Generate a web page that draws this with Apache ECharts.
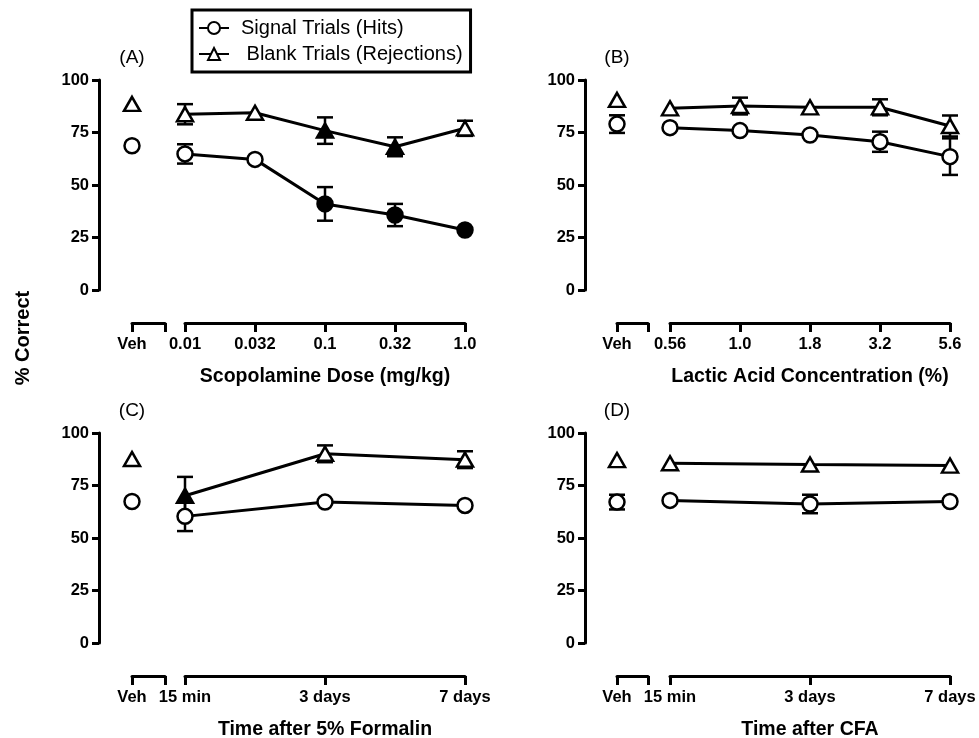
<!DOCTYPE html>
<html>
<head>
<meta charset="utf-8">
<script src="https://cdn.jsdelivr.net/npm/echarts@6/dist/echarts.min.js"></script>
<style>
  html, body { margin: 0; padding: 0; background: #fff; }
  #chart { width: 979px; height: 738px; }
</style>
</head>
<body>
<div id="chart"></div>
<script>
// (A) scopolamine
var scopDose = ['0.01', '0.032', '0.1', '0.32', '1.0'];
var scopHits = [64.8, 62.2, 41.0, 35.7, 28.6];
var scopHitsErr = [4.6, 0, 8.0, 5.3, 0];
var scopHitsFilled = [0, 0, 1, 1, 1];
var scopRej = [83.7, 84.4, 75.9, 68.2, 77.0];
var scopRejErr = [4.8, 0, 6.3, 4.5, 3.6];
var scopRejFilled = [0, 0, 1, 1, 0];
var scopVeh = [68.7, 88.6];      // hits, rejections
var scopVehErr = [0, 0];

// (B) lactic acid
var lacticConc = ['0.56', '1.0', '1.8', '3.2', '5.6'];
var lacticHits = [77.3, 75.9, 73.8, 70.6, 63.5];
var lacticHitsErr = [0, 0, 0, 4.8, 8.7];
var lacticHitsFilled = [0, 0, 0, 0, 0];
var lacticRej = [86.5, 87.6, 87.0, 87.0, 78.1];
var lacticRejErr = [0, 4.0, 0, 3.8, 5.0];
var lacticRejFilled = [0, 0, 0, 0, 0];
var lacticVeh = [79.0, 90.5];
var lacticVehErr = [4.2, 0];

// (C) formalin
var formalinTime = ['15 min', '3 days', '7 days'];
var formalinHits = [60.3, 67.1, 65.5];
var formalinHitsErr = [7.0, 0, 0];
var formalinHitsFilled = [0, 0, 0];
var formalinRej = [70.1, 90.1, 87.3];
var formalinRejErr = [9.0, 4.0, 4.0];
var formalinRejFilled = [1, 0, 0];
var formalinVeh = [67.4, 87.6];
var formalinVehErr = [0, 0];

// (D) CFA
var cfaTime = ['15 min', '3 days', '7 days'];
var cfaHits = [67.9, 66.2, 67.4];
var cfaHitsErr = [0, 4.4, 0];
var cfaHitsFilled = [0, 0, 0];
var cfaRej = [85.6, 85.0, 84.5];
var cfaRejErr = [0, 0, 0];
var cfaRejFilled = [0, 0, 0];
var cfaVeh = [67.1, 87.1];
var cfaVehErr = [3.5, 0];

var HITS = 'Signal Trials (Hits)';
var REJ = 'Blank Trials (Rejections)';
var FONT = '"Liberation Sans", Arial, Helvetica, sans-serif';

var panels = [
  { tag: '(A)', title: 'Scopolamine Dose (mg/kg)', cats: scopDose,
    hits: scopHits, hitsErr: scopHitsErr, hitsFilled: scopHitsFilled,
    rej: scopRej, rejErr: scopRejErr, rejFilled: scopRejFilled,
    veh: scopVeh, vehErr: scopVehErr,
    axisX: 99, vehL: 132, vehR: 165, mainL: 185, mainR: 465, top: 80, bottom: 290 },
  { tag: '(B)', title: 'Lactic Acid Concentration (%)', cats: lacticConc,
    hits: lacticHits, hitsErr: lacticHitsErr, hitsFilled: lacticHitsFilled,
    rej: lacticRej, rejErr: lacticRejErr, rejFilled: lacticRejFilled,
    veh: lacticVeh, vehErr: lacticVehErr,
    axisX: 585, vehL: 617, vehR: 648, mainL: 670, mainR: 950, top: 80, bottom: 290 },
  { tag: '(C)', title: 'Time after 5% Formalin', cats: formalinTime,
    hits: formalinHits, hitsErr: formalinHitsErr, hitsFilled: formalinHitsFilled,
    rej: formalinRej, rejErr: formalinRejErr, rejFilled: formalinRejFilled,
    veh: formalinVeh, vehErr: formalinVehErr,
    axisX: 99, vehL: 132, vehR: 165, mainL: 185, mainR: 465, top: 433, bottom: 643 },
  { tag: '(D)', title: 'Time after CFA', cats: cfaTime,
    hits: cfaHits, hitsErr: cfaHitsErr, hitsFilled: cfaHitsFilled,
    rej: cfaRej, rejErr: cfaRejErr, rejFilled: cfaRejFilled,
    veh: cfaVeh, vehErr: cfaVehErr,
    axisX: 585, vehL: 617, vehR: 648, mainL: 670, mainR: 950, top: 433, bottom: 643 }
];

var openStyle = { color: '#fff', borderColor: '#000', borderWidth: 2.5, opacity: 1 };
var lineStyle = { color: '#000', width: 3 };
var tickFont = { color: '#000', fontFamily: FONT, fontWeight: 'bold', fontSize: 16.5 };

function renderErr(params, api) {
  var x = api.value(0);
  var m = api.value(1);
  var e = api.value(2);
  var hi = api.coord([x, m + e]);
  var lo = api.coord([x, m - e]);
  var w = 8;
  var st = { stroke: '#000', lineWidth: 2.5 };
  return {
    type: 'group',
    children: [
      { type: 'line', shape: { x1: hi[0], y1: hi[1], x2: lo[0], y2: lo[1] }, style: st },
      { type: 'line', shape: { x1: hi[0] - w, y1: hi[1], x2: hi[0] + w, y2: hi[1] }, style: st },
      { type: 'line', shape: { x1: lo[0] - w, y1: lo[1], x2: lo[0] + w, y2: lo[1] }, style: st }
    ]
  };
}

function points(vals, filled) {
  return vals.map(function(v, i) {
    return filled[i] ? { value: v, itemStyle: { color: '#000', borderColor: '#000' } } : v;
  });
}

function errData(vals, errs, xFixed) {
  var out = [];
  vals.forEach(function(v, i) {
    if (errs[i] > 0) out.push([xFixed === undefined ? i : xFixed, v, errs[i]]);
  });
  return out;
}

var grids = [], xAxes = [], yAxes = [], series = [], graphics = [];

panels.forEach(function(p, i) {
  var gv = i * 2, gm = i * 2 + 1;
  grids.push({ left: p.vehL, width: p.vehR - p.vehL, top: p.top, height: p.bottom - p.top, outerBoundsMode: 'none' });
  grids.push({ left: p.mainL, width: p.mainR - p.mainL, top: p.top, height: p.bottom - p.top, outerBoundsMode: 'none' });

  xAxes.push({
    gridIndex: gv, type: 'value', min: 0, max: 1, interval: 1, offset: 33,
    axisLine: { onZero: false, lineStyle: { color: '#000', width: 3 } },
    axisTick: { length: 9, lineStyle: { color: '#000', width: 3 } },
    axisLabel: Object.assign({ margin: 13, formatter: function(v) { return v === 0 ? 'Veh' : ''; } }, tickFont),
    splitLine: { show: false }
  });
  xAxes.push({
    gridIndex: gm, type: 'category', data: p.cats, boundaryGap: false, offset: 33,
    name: p.title, nameLocation: 'middle', nameGap: 44,
    nameTextStyle: { color: '#000', fontFamily: FONT, fontWeight: 'bold', fontSize: 19.5 },
    axisLine: { onZero: false, lineStyle: { color: '#000', width: 3 } },
    axisTick: { length: 9, interval: 0, alignWithLabel: true, lineStyle: { color: '#000', width: 3 } },
    axisLabel: Object.assign({ margin: 13, interval: 0 }, tickFont),
    splitLine: { show: false }
  });

  yAxes.push({
    gridIndex: gv, type: 'value', min: 0, max: 100, interval: 25, offset: p.vehL - p.axisX,
    axisLine: { show: true, onZero: false, lineStyle: { color: '#000', width: 3 } },
    axisTick: { show: true, length: 7, lineStyle: { color: '#000', width: 3 } },
    axisLabel: Object.assign({ margin: 10 }, tickFont),
    splitLine: { show: false }
  });
  yAxes.push({ gridIndex: gm, type: 'value', min: 0, max: 100, show: false });

  // vehicle points
  series.push({
    type: 'custom', xAxisIndex: gv, yAxisIndex: gv, z: 1, clip: false,
    renderItem: renderErr, data: errData(p.veh, p.vehErr, 0)
  });
  series.push({
    type: 'scatter', xAxisIndex: gv, yAxisIndex: gv, z: 3, clip: false,
    symbol: 'circle', symbolSize: 15, itemStyle: openStyle,
    data: [[0, p.veh[0]]]
  });
  series.push({
    type: 'scatter', xAxisIndex: gv, yAxisIndex: gv, z: 3, clip: false,
    symbol: 'triangle', symbolSize: [16, 14], itemStyle: openStyle,
    data: [[0, p.veh[1]]]
  });

  // dose / time course
  series.push({
    type: 'custom', xAxisIndex: gm, yAxisIndex: gm, z: 1, clip: false,
    renderItem: renderErr, data: errData(p.hits, p.hitsErr).concat(errData(p.rej, p.rejErr))
  });
  series.push({
    type: 'line', name: i === 0 ? HITS : 'hits' + i, xAxisIndex: gm, yAxisIndex: gm, z: 3, clip: false,
    symbol: 'circle', symbolSize: 15, showSymbol: true, itemStyle: openStyle, lineStyle: lineStyle,
    data: points(p.hits, p.hitsFilled)
  });
  series.push({
    type: 'line', name: i === 0 ? REJ : 'rej' + i, xAxisIndex: gm, yAxisIndex: gm, z: 3, clip: false,
    symbol: 'triangle', symbolSize: [16, 14], showSymbol: true, itemStyle: openStyle, lineStyle: lineStyle,
    data: points(p.rej, p.rejFilled)
  });

  graphics.push({
    type: 'text', x: p.vehL, y: p.top - 22,
    style: { text: p.tag, fill: '#000', font: '19px ' + FONT, textAlign: 'center', textVerticalAlign: 'middle' }
  });
});

graphics.push({
  type: 'text', x: 23, y: 338, rotation: Math.PI / 2,
  style: { text: '% Correct', fill: '#000', font: 'bold 20px ' + FONT, textAlign: 'center', textVerticalAlign: 'middle' }
});

var chart = echarts.init(document.getElementById('chart'), null, { renderer: 'canvas' });
chart.setOption({
  animation: false,
  backgroundColor: '#fff',
  legend: {
    data: [HITS, REJ],
    orient: 'vertical',
    left: 192, top: 10,
    padding: [8, 8, 8, 6],
    itemWidth: 30, itemHeight: 15, itemGap: 6,
    borderColor: '#000', borderWidth: 3,
    selectedMode: false,
    textStyle: { color: '#000', fontFamily: FONT, fontSize: 20, padding: [0, 0, 0, 7] },
    formatter: function(name) { return name === REJ ? ' ' + name : name; }
  },
  grid: grids,
  xAxis: xAxes,
  yAxis: yAxes,
  series: series,
  graphic: graphics
});
</script>
</body>
</html>
